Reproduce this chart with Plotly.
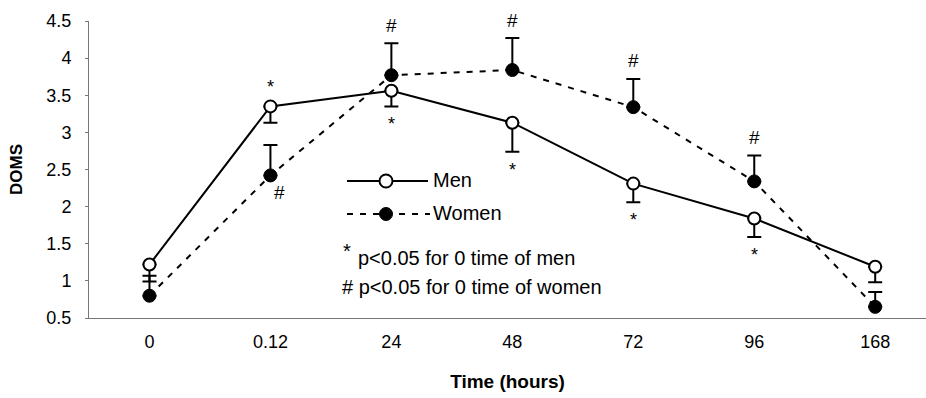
import plotly.graph_objects as go

# ---------------- data ----------------
time_labels = ["0", "0.12", "24", "48", "72", "96", "168"]
men_doms = [1.22, 3.35, 3.56, 3.13, 2.31, 1.84, 1.19]
men_err = [0.23, 0.22, 0.21, 0.39, 0.25, 0.25, 0.21]          # drawn downward
women_doms = [0.80, 2.42, 3.77, 3.84, 3.34, 2.34, 0.65]
women_err = [0.27, 0.41, 0.43, 0.43, 0.38, 0.35, 0.20]        # drawn upward
men_sig = ["", "*", "*", "*", "*", "*", ""]
men_sig_side = ["", "above", "below", "below", "below", "below", ""]
women_sig = ["", "#", "#", "#", "#", "#", ""]
women_sig_side = ["", "below", "above", "above", "above", "above", ""]

FONT = "Arial, Liberation Sans, sans-serif"
W, H = 926, 398
L, T, R, B = 89, 21, 0, 80
PW, PH = W - L - R, H - T - B

def px(x):
    return (x - L) / PW

def py(y):
    return (T + PH - y) / PH

xs = list(range(len(time_labels)))

fig = go.Figure()

fig.add_trace(go.Scatter(
    x=xs, y=women_doms, mode="lines+markers", name="Women",
    line=dict(color="black", width=2, dash="6px,7px"),
    marker=dict(symbol="circle", size=13, color="black",
                line=dict(color="black", width=1)),
    error_y=dict(type="data", symmetric=False, array=women_err,
                 arrayminus=[0] * len(women_err), color="black",
                 thickness=2, width=7),
    showlegend=False,
))
fig.add_trace(go.Scatter(
    x=xs, y=men_doms, mode="lines+markers", name="Men",
    line=dict(color="black", width=2),
    marker=dict(symbol="circle", size=12, color="white",
                line=dict(color="black", width=2)),
    error_y=dict(type="data", symmetric=False, array=[0] * len(men_err),
                 arrayminus=men_err, color="black", thickness=2, width=7),
    showlegend=False,
))

star_font = dict(size=18, color="black", family=FONT)
hash_font = dict(size=19, color="black", family=FONT)
annotations = []
for i, s in enumerate(men_sig):
    if not s:
        continue
    if men_sig_side[i] == "above":
        annotations.append(dict(x=xs[i], y=men_doms[i], text=s, showarrow=False,
                                yshift=19, font=star_font))
    else:
        annotations.append(dict(x=xs[i], y=men_doms[i] - men_err[i], text=s, showarrow=False,
                                yshift=-18, font=star_font))
for i, s in enumerate(women_sig):
    if not s:
        continue
    if women_sig_side[i] == "above":
        annotations.append(dict(x=xs[i], y=women_doms[i] + women_err[i], text=s, showarrow=False,
                                yshift=18, font=hash_font))
    else:
        annotations.append(dict(x=xs[i], y=women_doms[i], text=s, showarrow=False,
                                yshift=-17, xshift=9, font=hash_font))

# legend text / footnotes
lg_font = dict(size=20, color="black", family=FONT)
annotations += [
    dict(xref="paper", yref="paper", x=px(431), y=py(180), text="Men", showarrow=False,
         xanchor="left", yanchor="middle", font=lg_font),
    dict(xref="paper", yref="paper", x=px(431), y=py(213), text="Women", showarrow=False,
         xanchor="left", yanchor="middle", font=lg_font),
    dict(xref="paper", yref="paper", x=px(341), y=py(251), text="*", showarrow=False,
         xanchor="left", yanchor="middle", font=lg_font),
    dict(xref="paper", yref="paper", x=px(356), y=py(258), text="p<0.05 for 0 time of men",
         showarrow=False, xanchor="left", yanchor="middle", font=lg_font),
    dict(xref="paper", yref="paper", x=px(340), y=py(287), text="# p<0.05 for 0 time of women",
         showarrow=False, xanchor="left", yanchor="middle", font=lg_font),
]

shapes = [
    dict(type="line", xref="paper", yref="paper", x0=px(347), x1=px(428), y0=py(181), y1=py(181),
         line=dict(color="black", width=2)),
    dict(type="circle", xref="paper", yref="paper", xsizemode="pixel", ysizemode="pixel",
         xanchor=px(386), yanchor=py(181), x0=-6.5, x1=6.5, y0=-6.5, y1=6.5,
         fillcolor="white", line=dict(color="black", width=2)),
    dict(type="line", xref="paper", yref="paper", x0=px(347), x1=px(430), y0=py(214), y1=py(214),
         line=dict(color="black", width=2, dash="6px,7px")),
    dict(type="circle", xref="paper", yref="paper", xsizemode="pixel", ysizemode="pixel",
         xanchor=px(386), yanchor=py(214), x0=-6.5, x1=6.5, y0=-6.5, y1=6.5,
         fillcolor="black", line=dict(color="black", width=1)),
]

fig.update_layout(
    width=W, height=H,
    margin=dict(l=L, r=R, t=T, b=B),
    paper_bgcolor="white", plot_bgcolor="white",
    font=dict(family=FONT, color="black"),
    annotations=annotations,
    shapes=shapes,
    showlegend=False,
)
fig.update_xaxes(
    range=[-0.5, 6.42], tickvals=xs, ticktext=time_labels,
    showgrid=False, zeroline=False, showline=True, linecolor="#777", linewidth=1,
    ticks="", tickfont=dict(size=18, family=FONT, color="black"),
    ticklabelstandoff=7,
    title=dict(text="<b>Time (hours)</b>", font=dict(size=19, family=FONT, color="black"),
               standoff=24),
)
fig.update_yaxes(
    range=[0.5, 4.5], tickvals=[0.5, 1, 1.5, 2, 2.5, 3, 3.5, 4, 4.5],
    ticktext=["0.5", "1", "1.5", "2", "2.5", "3", "3.5", "4", "4.5"],
    showgrid=False, zeroline=False, showline=True, linecolor="#777", linewidth=1,
    ticks="outside", ticklen=3, tickcolor="#777", tickwidth=1,
    tickfont=dict(size=18, family=FONT, color="black"), ticklabelstandoff=10,
    title=dict(text="<b>DOMS</b>", font=dict(size=17, family=FONT, color="black"),
               standoff=19),
)

fig.write_html("out.html")
